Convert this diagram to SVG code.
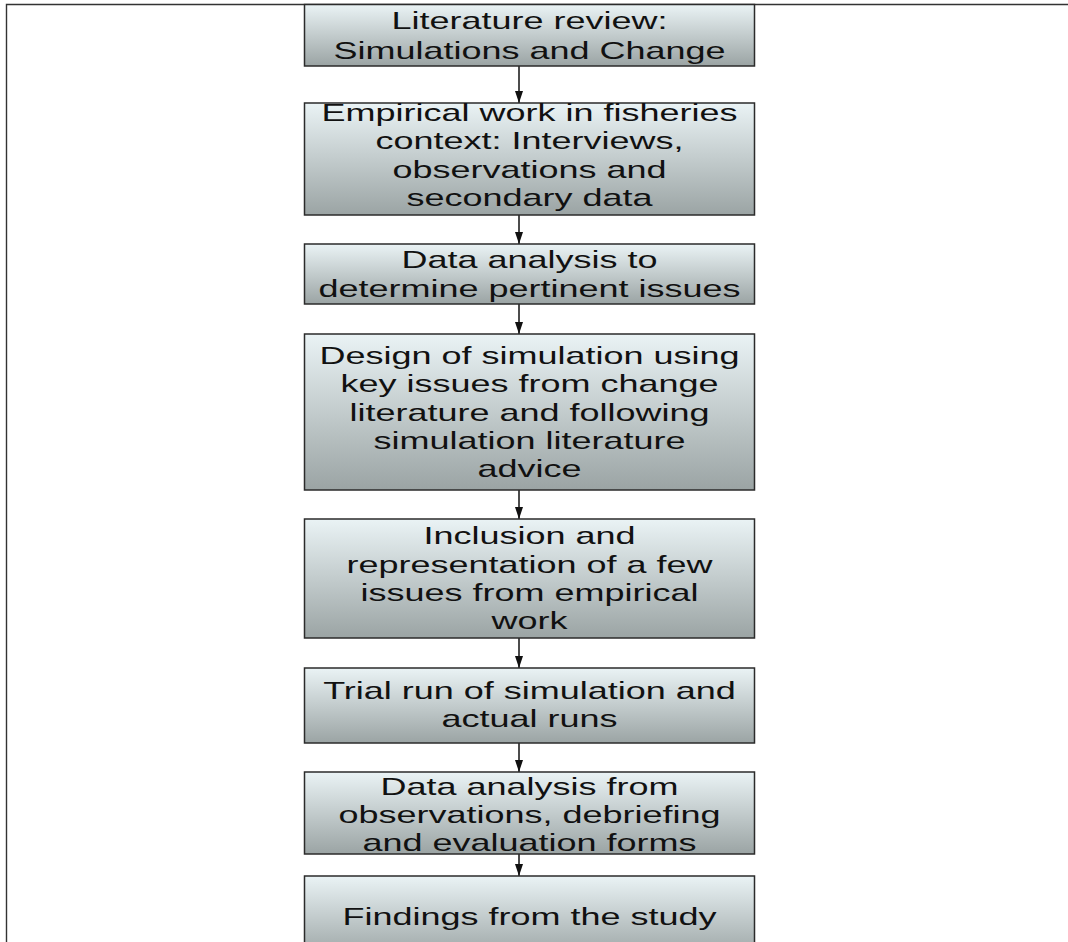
<svg xmlns="http://www.w3.org/2000/svg" width="1068" height="942" viewBox="0 0 1068 942">
<style>
.box{fill:url(#g);stroke:#2b2b2b;stroke-width:1.5}
.t{font-family:"Liberation Sans",Arial,sans-serif;font-size:24px;fill:#111;text-anchor:middle}
.c{stroke:#111;stroke-width:1.5;fill:none;marker-end:url(#ah)}
.frame{stroke:#333;stroke-width:1.4;fill:none}
</style>
<defs>
<linearGradient id="g" x1="0" y1="0" x2="0" y2="1">
<stop offset="0" stop-color="#eaf3f5"/>
<stop offset="1" stop-color="#9ba4a4"/>
</linearGradient>
<marker id="ah" markerUnits="userSpaceOnUse" viewBox="0 0 12 8" refX="12" refY="4" markerWidth="12" markerHeight="8" orient="auto">
<path d="M0,0 L12,4 L0,8 z" fill="#111"/>
</marker>
</defs>
<rect width="1068" height="942" fill="#fff"/>
<path class="frame" d="M6.5,942 V4.5 H1068"/>
<g id="connectors">
<line class="c" x1="519" y1="66" x2="519" y2="103"/>
<line class="c" x1="519" y1="215" x2="519" y2="244"/>
<line class="c" x1="519" y1="304" x2="519" y2="334"/>
<line class="c" x1="519" y1="490" x2="519" y2="519"/>
<line class="c" x1="519" y1="638" x2="519" y2="668"/>
<line class="c" x1="519" y1="743" x2="519" y2="772"/>
<line class="c" x1="519" y1="854" x2="519" y2="876"/>
</g>
<g id="n1">
<rect class="box" x="304.5" y="4.5" width="450" height="61.5"/>
<text class="t" transform="matrix(1.5 0 0 1 529.5 0)"><tspan x="0" y="29">Literature review:</tspan><tspan x="0" y="59">Simulations and  Change</tspan></text>
</g>
<g id="n2">
<rect class="box" x="304.5" y="103" width="450" height="112"/>
<text class="t" transform="matrix(1.5 0 0 1 529.5 0)"><tspan x="0" y="121">Empirical work in fisheries</tspan><tspan x="0" y="149.5">context: Interviews,</tspan><tspan x="0" y="178">observations and</tspan><tspan x="0" y="206.5">secondary data</tspan></text>
</g>
<g id="n3">
<rect class="box" x="304.5" y="244" width="450" height="60"/>
<text class="t" transform="matrix(1.5 0 0 1 529.5 0)"><tspan x="0" y="268.5">Data analysis to</tspan><tspan x="0" y="297">determine pertinent issues</tspan></text>
</g>
<g id="n4">
<rect class="box" x="304.5" y="334" width="450" height="156"/>
<text class="t" transform="matrix(1.5 0 0 1 529.5 0)"><tspan x="0" y="364">Design of simulation using</tspan><tspan x="0" y="392.3">key issues from change</tspan><tspan x="0" y="420.6">literature and following</tspan><tspan x="0" y="449">simulation literature</tspan><tspan x="0" y="477.5">advice</tspan></text>
</g>
<g id="n5">
<rect class="box" x="304.5" y="519" width="450" height="119"/>
<text class="t" transform="matrix(1.5 0 0 1 529.5 0)"><tspan x="0" y="544.5">Inclusion and</tspan><tspan x="0" y="572.8">representation of a few</tspan><tspan x="0" y="601.1">issues from empirical</tspan><tspan x="0" y="629.4">work</tspan></text>
</g>
<g id="n6">
<rect class="box" x="304.5" y="668" width="450" height="75"/>
<text class="t" transform="matrix(1.5 0 0 1 529.5 0)"><tspan x="0" y="699.3">Trial run of simulation and</tspan><tspan x="0" y="727">actual runs</tspan></text>
</g>
<g id="n7">
<rect class="box" x="304.5" y="772" width="450" height="82"/>
<text class="t" transform="matrix(1.5 0 0 1 529.5 0)"><tspan x="0" y="795">Data analysis from</tspan><tspan x="0" y="823.3">observations, debriefing</tspan><tspan x="0" y="851">and evaluation forms</tspan></text>
</g>
<g id="n8">
<rect class="box" x="304.5" y="876" width="450" height="82"/>
<text class="t" transform="matrix(1.5 0 0 1 529.5 0)"><tspan x="0" y="925">Findings from the study</tspan></text>
</g>
</svg>
